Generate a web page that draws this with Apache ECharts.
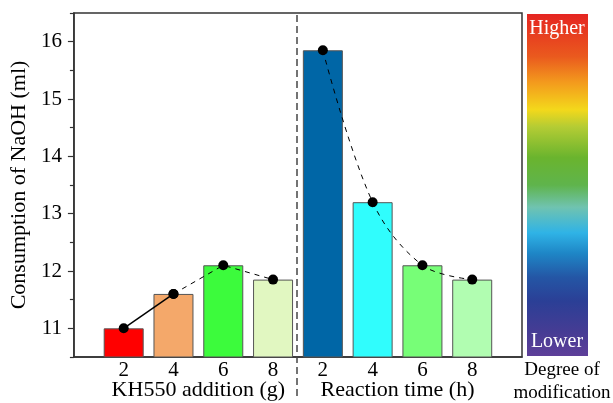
<!DOCTYPE html>
<html>
<head>
<meta charset="utf-8">
<script src="https://cdn.jsdelivr.net/npm/echarts@6/dist/echarts.min.js"></script>
<style>html,body{margin:0;padding:0;background:#fff;}#c{width:613px;height:403px;}</style>
</head>
<body>
<div id="c"></div>
<script>
const xLabels = ['2', '4', '6', '8', '2', '4', '6', '8'];
const groupNames = ['KH550 addition (g)', 'Reaction time (h)'];
const kh550Values = [11.0, 11.6, 12.1, 11.85];
const timeValues = [15.85, 13.2, 12.1, 11.85];
const barColors = ['#ff0000', '#f4a86a', '#3cfb3c', '#e1f7c1', '#0066a6', '#30fdfd', '#77fe77', '#b1fdb1'];
const yTicks = [11, 12, 13, 14, 15, 16];
const yMinorTicks = [10.5, 11.5, 12.5, 13.5, 14.5, 15.5, 16.5];
const dividerX = 4.5;

const allValues = kh550Values.concat(timeValues);
const barData = allValues.map((v, i) => ({ value: [i + 1, v], itemStyle: { color: barColors[i] } }));
const g1 = kh550Values.map((v, i) => [i + 1, v]);
const g2 = timeValues.map((v, i) => [i + 5, v]);

const font = 'Liberation Serif';
const chart = echarts.init(document.getElementById('c'));
chart.setOption({
  animation: false,
  grid: [
    { left: 72, top: 13, right: 91, bottom: 46, show: true, borderColor: '#333', borderWidth: 1.5, backgroundColor: 'transparent' },
    { left: 72, top: 13, right: 91, bottom: 7 }
  ],
  xAxis: [
    {
      type: 'value', gridIndex: 0, min: 0, max: 9, interval: 1,
      axisLine: { show: true, lineStyle: { color: '#333', width: 1.5 } },
      axisTick: { show: false }, splitLine: { show: false },
      axisLabel: { margin: 3, fontFamily: font, fontSize: 21, color: '#000',
        formatter: v => (v >= 1 && v <= 8) ? xLabels[v - 1] : '' }
    },
    {
      type: 'value', gridIndex: 0, position: 'bottom', offset: 19, min: 0, max: 9, interval: 0.5,
      axisLine: { show: false }, axisTick: { show: false }, splitLine: { show: false },
      axisLabel: { margin: 3, fontFamily: font, fontSize: 22, color: '#000',
        formatter: v => v === 2.5 ? groupNames[0] : (v === 6.5 ? groupNames[1] : '') }
    },
    { type: 'value', gridIndex: 1, min: 0, max: 9, show: false }
  ],
  yAxis: [
    {
      type: 'value', gridIndex: 0, min: 10.5, max: 16.5,
      name: 'Consumption of NaOH (ml)', nameLocation: 'middle', nameGap: 37,
      nameTextStyle: { fontFamily: font, fontSize: 22, color: '#000' },
      axisLine: { show: true, lineStyle: { color: '#333', width: 1.5 } },
      axisTick: { show: true, length: 6, customValues: yTicks, lineStyle: { color: '#333', width: 1.2 } },
      axisLabel: { margin: 12, fontFamily: font, fontSize: 21, color: '#000', customValues: yTicks },
      splitLine: { show: false }
    },
    {
      type: 'value', gridIndex: 0, position: 'left', min: 10.5, max: 16.5,
      axisLine: { show: false },
      axisTick: { show: true, length: 4, customValues: yMinorTicks, lineStyle: { color: '#333', width: 1.2 } },
      axisLabel: { show: false }, splitLine: { show: false }
    },
    { type: 'value', gridIndex: 1, min: 0, max: 1, show: false }
  ],
  series: [
    {
      type: 'bar', xAxisIndex: 0, yAxisIndex: 0, barWidth: 40, data: barData,
      itemStyle: { borderColor: '#555', borderWidth: 1 }
    },
    {
      type: 'line', xAxisIndex: 0, yAxisIndex: 0, data: g1.slice(0, 2),
      symbol: 'circle', symbolSize: 10, itemStyle: { color: '#000' },
      lineStyle: { color: '#000', width: 1.5, type: 'solid' }
    },
    {
      type: 'line', xAxisIndex: 0, yAxisIndex: 0, data: g1.slice(1),
      symbol: 'circle', symbolSize: 10, itemStyle: { color: '#000' },
      lineStyle: { color: '#000', width: 1, type: [5, 5] }
    },
    {
      type: 'line', xAxisIndex: 0, yAxisIndex: 0, data: g2, smooth: 0.35,
      symbol: 'circle', symbolSize: 10, itemStyle: { color: '#000' },
      lineStyle: { color: '#000', width: 1, type: [5, 5] }
    },
    {
      type: 'line', xAxisIndex: 2, yAxisIndex: 2, data: [[dividerX, 0], [dividerX, 1]],
      symbol: 'none', lineStyle: { color: '#444', width: 1.5, type: [7, 4] }, silent: true
    }
  ],
  graphic: [
    {
      type: 'rect', left: 527, top: 14, shape: { width: 61, height: 342 },
      style: {
        fill: new echarts.graphic.LinearGradient(0, 0, 0, 1, [
          { offset: 0, color: '#e52521' },
          { offset: 0.125, color: '#ea5a1e' },
          { offset: 0.2, color: '#f39a1d' },
          { offset: 0.28, color: '#f3d81b' },
          { offset: 0.33, color: '#b4cc34' },
          { offset: 0.42, color: '#6ab42e' },
          { offset: 0.5, color: '#5fb44c' },
          { offset: 0.565, color: '#70c3b0' },
          { offset: 0.64, color: '#2fb3e6' },
          { offset: 0.7, color: '#1e86c6' },
          { offset: 0.77, color: '#2456a5' },
          { offset: 0.84, color: '#2b3f96' },
          { offset: 0.93, color: '#463c94' },
          { offset: 1, color: '#5e3f99' }
        ])
      }
    },
    { type: 'text', x: 557, y: 29, style: { text: 'Higher', fill: '#fff', font: '20px "Liberation Serif"', align: 'center', verticalAlign: 'middle' } },
    { type: 'text', x: 557, y: 342, style: { text: 'Lower', fill: '#fff', font: '20px "Liberation Serif"', align: 'center', verticalAlign: 'middle' } },
    { type: 'text', x: 562, y: 370, style: { text: 'Degree of', fill: '#000', font: '19px "Liberation Serif"', align: 'center', verticalAlign: 'middle' } },
    { type: 'text', x: 562, y: 393, style: { text: 'modification', fill: '#000', font: '19px "Liberation Serif"', align: 'center', verticalAlign: 'middle' } }
  ]
});
</script>
</body>
</html>
